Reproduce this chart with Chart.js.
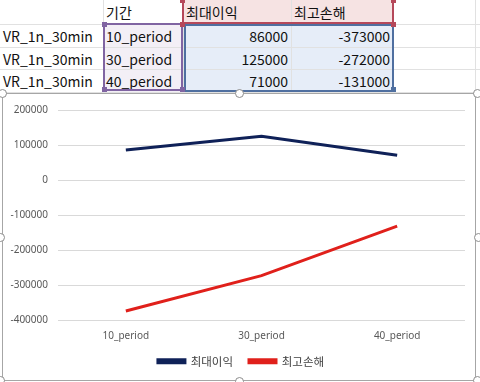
<!DOCTYPE html>
<html>
<head>
<meta charset="utf-8">
<script src="https://cdn.jsdelivr.net/npm/chart.js@4.4.1/dist/chart.umd.min.js"></script>
<style>
  html, body { margin: 0; padding: 0; background: #fff; }
  body { width: 480px; height: 382px; position: relative; overflow: hidden;
         font-family: "Noto Sans CJK KR", "Noto Sans", sans-serif; }
  .cell { position: absolute; height: 22px; line-height: 22px; font-size: 14px; color: #111;
          white-space: nowrap; box-sizing: border-box; padding: 0 3px; }
  .r { text-align: right; }
  .gridv, .gridh { position: absolute; background: #e1e1e1; }
  .sel { position: absolute; box-sizing: border-box; border: 2px solid; }
  .knob { position: absolute; width: 5px; height: 5px; }
  .handle { position: absolute; width: 9px; height: 9px; border: 1.5px solid #8c8c8c;
            border-radius: 50%; background: #fff; box-sizing: border-box; }
  #frame { position: absolute; left: 2px; top: 93px; width: 474px; height: 288px;
           border: 1px solid #a6a6a6; box-sizing: border-box; background: #fff; }
  #wrap { position: absolute; left: 3px; top: 94px; width: 472px; height: 286px; }
</style>
</head>
<body>
<div id="sheet"></div>
<div id="frame"></div>
<div id="wrap"><canvas id="myChart"></canvas></div>
<div id="handles"></div>
<script>
var rowNames = ['VR_1n_30min', 'VR_1n_30min', 'VR_1n_30min'];
var periods = ['10_period', '30_period', '40_period'];
var seriesNames = ['최대이익', '최고손해'];
var maxProfit = [86000, 125000, 71000];
var maxLoss = [-373000, -272000, -131000];
var headerB = '기간';

(function () {
    var sheet = document.getElementById('sheet');
    var colX = [0, 103, 183, 291, 393, 475];
    var rowY = [0, 24, 47, 69, 92];

    // fills of the selected ranges
    function box(x, y, w, h, bg) {
        var d = document.createElement('div');
        d.style.cssText = 'position:absolute;left:' + x + 'px;top:' + y + 'px;width:' + w + 'px;height:' + h + 'px;background:' + bg;
        sheet.appendChild(d);
    }
    box(104, 24, 79, 68, '#f3eff6');
    box(183, 0, 210, 24, '#f6e3e3');
    box(183, 24, 210, 68, '#e6edf8');

    // grid lines
    for (var i = 1; i < colX.length; i++) {
        var v = document.createElement('div');
        v.className = 'gridv';
        v.style.cssText = 'left:' + colX[i] + 'px;top:0;width:1px;height:93px';
        sheet.appendChild(v);
    }
    for (var j = 1; j < rowY.length; j++) {
        var h = document.createElement('div');
        h.className = 'gridh';
        h.style.cssText = 'left:0;top:' + rowY[j] + 'px;width:480px;height:1px';
        sheet.appendChild(h);
    }

    function cell(text, col, row, right) {
        var c = document.createElement('div');
        c.className = 'cell' + (right ? ' r' : '');
        c.style.left = colX[col] + 'px';
        c.style.width = (colX[col + 1] - colX[col]) + 'px';
        c.style.top = (rowY[row] + 1) + 'px';
        c.textContent = text;
        sheet.appendChild(c);
    }
    cell(headerB, 1, 0);
    cell(seriesNames[0], 2, 0);
    cell(seriesNames[1], 3, 0);
    for (var k = 0; k < periods.length; k++) {
        cell(rowNames[k], 0, k + 1);
        cell(periods[k], 1, k + 1);
        cell(String(maxProfit[k]), 2, k + 1, true);
        cell(String(maxLoss[k]), 3, k + 1, true);
    }

    // selection borders
    function sel(x, y, w, h, col) {
        var s = document.createElement('div');
        s.className = 'sel';
        s.style.cssText = 'left:' + x + 'px;top:' + y + 'px;width:' + w + 'px;height:' + h + 'px;border-color:' + col;
        sheet.appendChild(s);
    }
    function knob(x, y, col) {
        var n = document.createElement('div');
        n.className = 'knob';
        n.style.cssText = 'left:' + x + 'px;top:' + y + 'px;background:' + col;
        sheet.appendChild(n);
    }
    sel(103, 23, 80, 68, '#8064a2');
    sel(182, -3, 212, 27, '#b5485a');
    sel(184, 24, 210, 68, '#4f6fa0');
    knob(102, 22, '#8064a2'); knob(180, 22, '#8064a2'); knob(102, 87, '#8064a2'); knob(180, 87, '#8064a2');
    knob(180, -2, '#b5485a'); knob(391, -2, '#b5485a'); knob(180, 22, '#b5485a'); knob(391, 22, '#b5485a');
    knob(391, 87, '#4f6fa0');

    // chart frame handles
    var hs = document.getElementById('handles');
    [[-2, 89], [235, 89], [473, 89], [-4, 233], [474, 233], [-4, 376], [235, 377], [473, 376]].forEach(function (p) {
        var d = document.createElement('div');
        d.className = 'handle';
        d.style.left = p[0] + 'px';
        d.style.top = p[1] + 'px';
        hs.appendChild(d);
    });
})();

// legend sits a bit right of and closer to the axis than Chart.js puts it
var legendNudge = {
    id: 'legendNudge',
    afterLayout: function (chart) {
        var lg = chart.legend;
        lg.left += 7; lg.right += 7;
        lg.top -= 13; lg.bottom -= 13;
    }
};

var ctx = document.getElementById('myChart');
var myChart = new Chart(ctx, {
    type: 'line',
    data: {
        labels: periods,
        datasets: [
            {
                label: seriesNames[0],
                data: maxProfit,
                borderColor: '#0f2158',
                backgroundColor: '#0f2158',
                borderWidth: 3,
                pointRadius: 0,
                tension: 0
            },
            {
                label: seriesNames[1],
                data: maxLoss,
                borderColor: '#e0201b',
                backgroundColor: '#e0201b',
                borderWidth: 3,
                pointRadius: 0,
                tension: 0
            }
        ]
    },
    options: {
        responsive: true,
        maintainAspectRatio: false,
        animation: false,
        layout: { padding: { left: 0, right: 10, top: 0, bottom: -10 } },
        plugins: {
            legend: {
                position: 'bottom',
                labels: {
                    boxWidth: 27,
                    boxHeight: 3,
                    padding: 16,
                    color: '#404040',
                    font: { family: '"Noto Sans CJK KR", sans-serif', size: 11.5 }
                }
            },
            tooltip: { enabled: false }
        },
        scales: {
            x: {
                offset: true,
                grid: { display: false, drawTicks: false },
                border: { display: false },
                ticks: {
                    color: '#595959',
                    padding: 10,
                    font: { family: '"Noto Sans", sans-serif', size: 10 }
                }
            },
            y: {
                min: -400000,
                max: 200000,
                grid: { color: '#d9d9d9', drawTicks: false },
                border: { display: false },
                afterFit: function (axis) { axis.width = 55; },
                ticks: {
                    stepSize: 100000,
                    padding: 10,
                    color: '#595959',
                    font: { family: '"Noto Sans", sans-serif', size: 10 },
                    callback: function (value) { return String(value); }
                }
            }
        }
    },
    plugins: [legendNudge]
});
</script>
</body>
</html>
